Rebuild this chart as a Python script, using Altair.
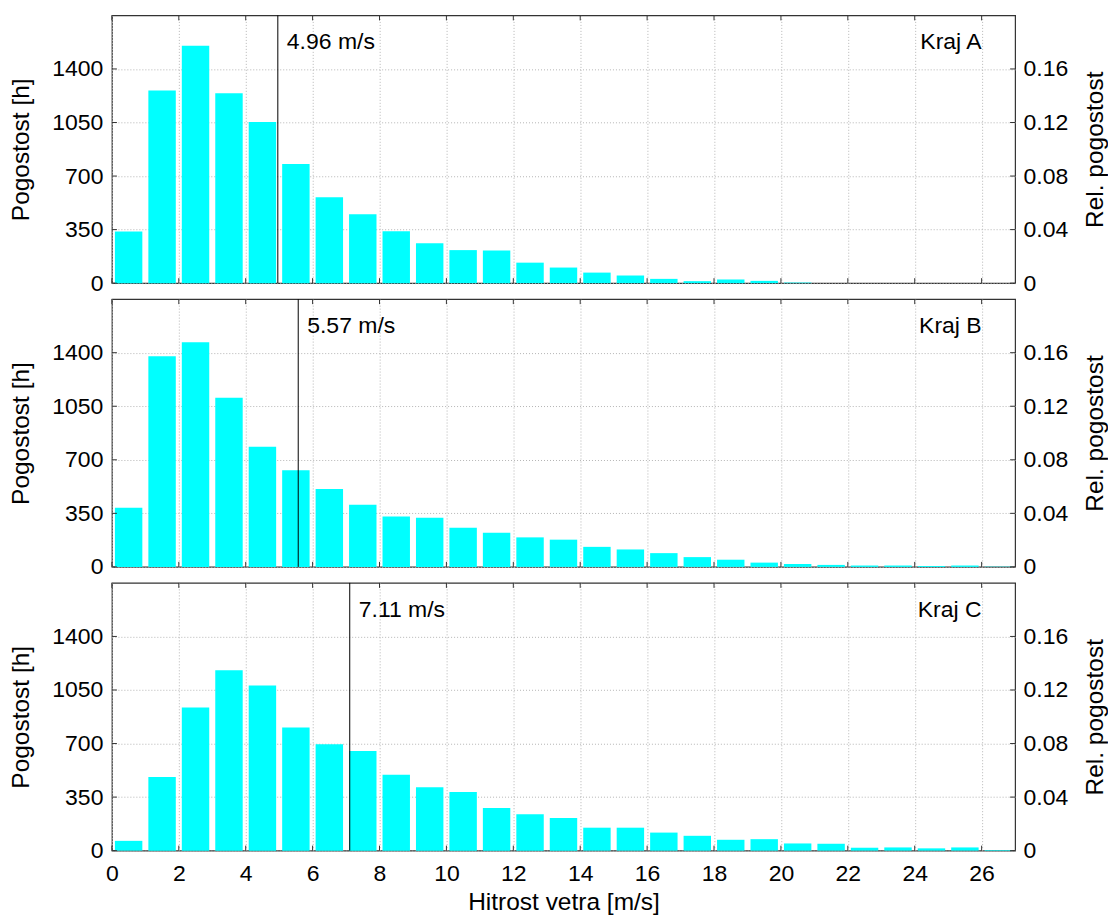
import altair as alt
import pandas as pd

# ---------------- data ----------------
speed_bins = [0.5, 1.5, 2.5, 3.5, 4.5, 5.5, 6.5, 7.5, 8.5, 9.5, 10.5, 11.5, 12.5, 13.5,
              14.5, 15.5, 16.5, 17.5, 18.5, 19.5, 20.5, 21.5, 22.5, 23.5, 24.5, 25.5, 26.5]

kraj_a = [337, 1259, 1551, 1242, 1054, 778, 562, 451, 339, 261, 216, 214, 134, 102,
          69, 50, 28, 13, 24, 15, 4, 0, 0, 0, 0, 0, 0]
kraj_b = [387, 1376, 1469, 1106, 786, 631, 509, 406, 329, 322, 256, 223, 193, 178,
          131, 114, 90, 64, 47, 28, 19, 13, 9, 9, 6, 9, 2]
kraj_c = [64, 481, 936, 1179, 1080, 805, 696, 651, 496, 414, 384, 279, 238, 213,
          150, 150, 118, 97, 71, 75, 47, 45, 19, 21, 15, 21, 4]

region_names = ["Kraj A", "Kraj B", "Kraj C"]
mean_speeds = [4.96, 5.57, 7.11]

x_ticks = [0, 2, 4, 6, 8, 10, 12, 14, 16, 18, 20, 22, 24, 26]
y_ticks = [0, 350, 700, 1050, 1400]
rel_ticks = [0, 0.04, 0.08, 0.12, 0.16]
x_domain = [0, 27]
y_domain = [0, 1750]
rel_domain = [0, 0.2]
hours_total = 8750
bar_half = 0.41

W, H = 904, 268
FRAME = "#333333"
FONT = "Liberation Sans"

xs = alt.Scale(domain=x_domain, nice=False, zero=False)


def ys():
    return alt.Scale(domain=y_domain, nice=False)


def panel(name, counts, mean, show_x):
    df = pd.DataFrame({"v": speed_bins, "h": counts})
    base = alt.Chart(df).transform_calculate(
        x0=f"datum.v - {bar_half}",
        x1=f"datum.v + {bar_half}",
        rel=f"datum.h / {hours_total}",
    )
    if show_x:
        xaxis = alt.Axis(values=x_ticks, format="d", grid=True, ticks=False, domain=False,
                         labelPadding=12, labelFlush=False, labelOverlap=False,
                         title="Hitrost vetra [m/s]", titlePadding=5)
    else:
        xaxis = alt.Axis(values=x_ticks, grid=True, ticks=False, domain=False,
                         labels=False, title=None)

    def X(field):
        return alt.X(field, scale=xs, axis=xaxis)

    left_axis = alt.Axis(values=y_ticks, format="d", grid=True, ticks=False, domain=False,
                         labelPadding=9, labelFlush=False, minExtent=62, maxExtent=62,
                         title="Pogostost [h]", titlePadding=16, orient="left")
    right_axis = alt.Axis(values=rel_ticks, grid=False, ticks=False, domain=False,
                          labelExpr="datum.value == 0 ? '0' : format(datum.value, '.2f')",
                          labelPadding=8, labelFlush=False, minExtent=53, maxExtent=53,
                          title="Rel. pogostost", titleAngle=270, titleBaseline="top",
                          titlePadding=15, orient="right")

    bars = base.mark_bar(color="#00FFFF", strokeWidth=0).encode(
        x=X("x0:Q"),
        x2="x1:Q",
        y=alt.Y("h:Q", scale=ys(), axis=left_axis),
        y2=alt.datum(0),
    )
    rel_bars = base.mark_bar(opacity=0).encode(
        x=X("x0:Q"),
        x2="x1:Q",
        y=alt.Y("rel:Q", scale=alt.Scale(domain=rel_domain, nice=False), axis=right_axis),
        y2=alt.datum(0),
    )

    tx = alt.Chart(pd.DataFrame({"t": x_ticks}))
    ty = alt.Chart(pd.DataFrame({"t": y_ticks}))
    tick_bottom = tx.mark_rule(color=FRAME).encode(
        x=X("t:Q"), y=alt.value(H), y2=alt.value(H - 5))
    tick_top = tx.mark_rule(color=FRAME).encode(
        x=X("t:Q"), y=alt.value(0), y2=alt.value(5))
    tick_left = ty.mark_rule(color=FRAME).encode(
        y=alt.Y("t:Q", scale=ys(), axis=None), x=alt.value(0), x2=alt.value(5))
    tick_right = ty.mark_rule(color=FRAME).encode(
        y=alt.Y("t:Q", scale=ys(), axis=None), x=alt.value(W), x2=alt.value(W - 5))

    mdf = pd.DataFrame({"m": [mean], "lab": [f"{mean:.2f} m/s"],
                        "kx": [x_ticks[-1]], "name": [name]})
    mc = alt.Chart(mdf)
    mean_rule = mc.mark_rule(color="black", strokeWidth=1).encode(x=X("m:Q"))
    mean_text = mc.mark_text(align="left", baseline="middle", dx=9, fontSize=23,
                             font=FONT, color="black").encode(
        x=X("m:Q"), y=alt.value(27), text="lab:N")
    name_text = mc.mark_text(align="right", baseline="middle", fontSize=23,
                             font=FONT, color="black").encode(
        x=X("kx:Q"), y=alt.value(27), text="name:N")

    return alt.layer(
        bars, rel_bars, tick_bottom, tick_top, tick_left, tick_right,
        mean_rule, mean_text, name_text,
    ).resolve_scale(y="independent").properties(width=W, height=H)


chart = alt.vconcat(
    panel(region_names[0], kraj_a, mean_speeds[0], False),
    panel(region_names[1], kraj_b, mean_speeds[1], False),
    panel(region_names[2], kraj_c, mean_speeds[2], True),
    spacing=1,
).properties(
    padding={"left": 8, "top": 13, "right": 0, "bottom": 0},
    background="white",
).configure(
    font=FONT,
).configure_view(
    stroke=FRAME, strokeWidth=1.2,
).configure_axis(
    labelFontSize=23, titleFontSize=24.5, labelColor="black", titleColor="black",
    titleFontWeight="normal", labelFont=FONT, titleFont=FONT,
    gridColor="#b5b5b5", gridDash=[1, 2], gridWidth=1,
)

chart.save("out.html", embed_options={"renderer": "svg", "actions": False})
